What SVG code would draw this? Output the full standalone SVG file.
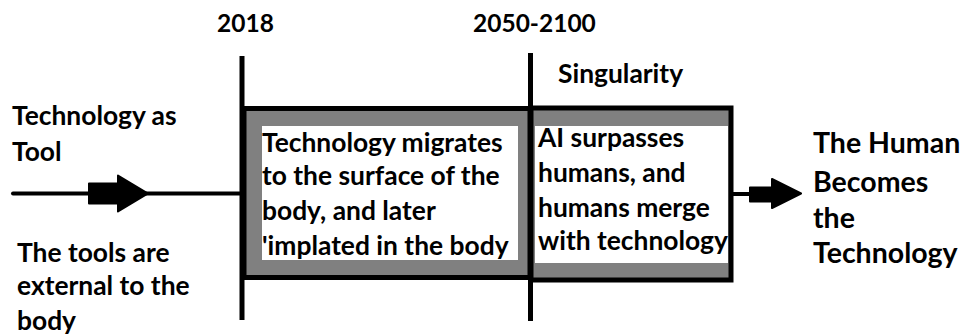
<svg xmlns="http://www.w3.org/2000/svg" width="963" height="335" viewBox="0 0 963 335">
  <style>
    text { font-family: Lato, "Liberation Sans", sans-serif; font-weight: bold; fill: #000; }
    .yr { font-size: 24.5px; }
    .lbl { font-size: 26.4px; }
    .big { font-size: 28.5px; }
    .frame { fill: #808080; stroke: #000; stroke-width: 5; }
    .panel { fill: #fff; }
    .rule { stroke: #000; stroke-width: 5; fill: none; }
    .line { stroke: #000; stroke-width: 4; fill: none; stroke-linecap: round; }
    .arrow { fill: #000; stroke: #000; stroke-width: 2; stroke-linejoin: round; }
  </style>

  <g id="connectors">
    <!-- lead-in timeline with block arrow -->
    <line class="line" x1="13" y1="193.5" x2="242" y2="193.5"/>
    <path class="arrow" d="M89,183.5 H118 V175.5 L148,193.5 L118,211.5 V203.5 H89 Z"/>
    <!-- exit stub and block arrow -->
    <line class="line" x1="733" y1="194" x2="752" y2="194" stroke-width="3"/>
    <path class="arrow" d="M750,187.5 H772 V179 L801,193.5 L772,208 V201.5 H750 Z"/>
  </g>

  <g id="era-2018">
    <rect class="frame" x="244" y="108.5" width="286" height="169"/>
    <rect class="panel" x="262" y="126" width="256" height="134"/>
    <line class="rule" x1="242" y1="56" x2="242" y2="320"/>
    <text class="yr" x="217" y="32">2018</text>
    <text class="lbl" x="262" y="152">Technology migrates</text>
    <text class="lbl" x="262" y="185">to the surface of the</text>
    <text class="lbl" x="262" y="220">body, and later</text>
    <text class="lbl" x="262" y="255">'implated in the body</text>
  </g>

  <g id="era-singularity">
    <rect class="frame" x="531" y="108" width="200" height="172"/>
    <rect class="panel" x="535" y="126" width="193" height="137"/>
    <line class="rule" x1="530.5" y1="53" x2="530.5" y2="321"/>
    <text class="yr" x="473" y="32">2050-2100</text>
    <text class="lbl" x="558" y="83">Singularity</text>
    <text class="lbl" x="538" y="147">AI surpasses</text>
    <text class="lbl" x="538" y="182">humans, and</text>
    <text class="lbl" x="538" y="217">humans merge</text>
    <text class="lbl" x="538" y="250">with technology</text>
  </g>

  <g id="tool-stage">
    <text class="lbl" x="12" y="125">Technology as</text>
    <text class="lbl" x="12" y="161">Tool</text>
    <text class="lbl" x="17" y="262">The tools are</text>
    <text class="lbl" x="17" y="295">external to the</text>
    <text class="lbl" x="17" y="330">body</text>
  </g>

  <g id="human-technology">
    <text class="big" x="813" y="153">The Human</text>
    <text class="big" x="813" y="192">Becomes</text>
    <text class="big" x="813" y="228">the</text>
    <text class="big" x="813" y="263">Technology</text>
  </g>
</svg>
